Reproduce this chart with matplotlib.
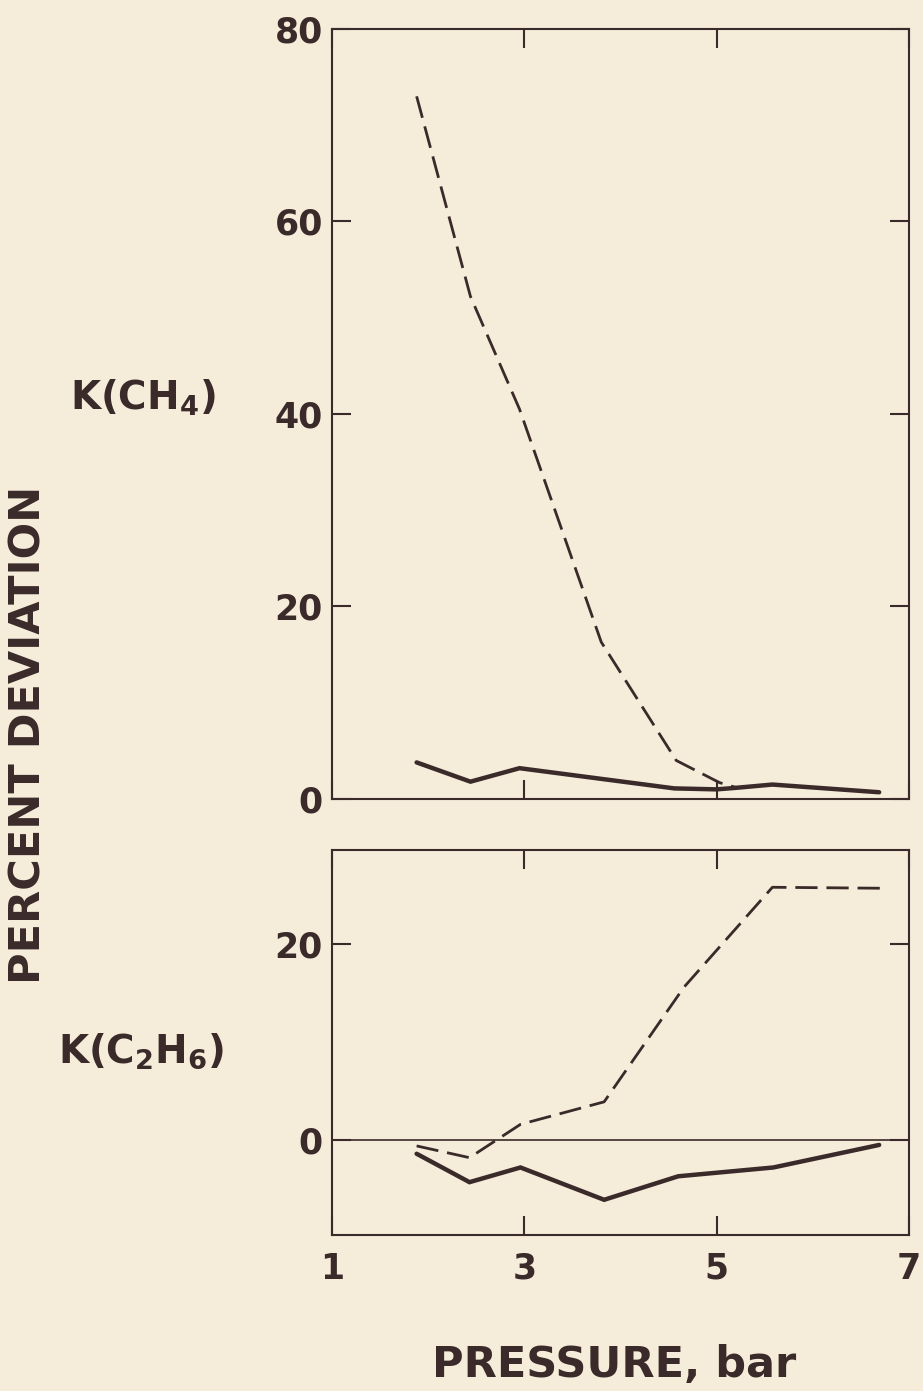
import matplotlib
matplotlib.use("Agg")
import matplotlib.pyplot as plt

plt.rcParams["font.family"] = ["DejaVu Sans"]
plt.rcParams["mathtext.fontset"] = "dejavusans"
plt.rcParams["mathtext.default"] = "bf"

# K(CH4) percent deviation vs pressure
ch4_solid_p = [1.88, 2.44, 2.95, 4.56, 5.00, 5.19, 5.58, 6.69]
ch4_solid_dev = [3.8, 1.8, 3.2, 1.1, 1.0, 1.15, 1.5, 0.7]
ch4_dash_p = [1.88, 2.44, 2.95, 3.80, 4.58, 5.03, 5.20]
ch4_dash_dev = [73.0, 52.2, 40.5, 16.3, 4.0, 1.7, 1.2]

# K(C2H6) percent deviation vs pressure
c2h6_solid_p = [1.88, 2.43, 2.96, 3.83, 4.60, 5.59, 6.69]
c2h6_solid_dev = [-1.4, -4.3, -2.8, -6.1, -3.7, -2.8, -0.5]
c2h6_dash_p = [1.88, 2.43, 2.96, 3.83, 4.66, 5.58, 6.71]
c2h6_dash_dev = [-0.6, -1.8, 1.6, 3.9, 15.6, 25.8, 25.7]

x_ticks = [1, 3, 5, 7]
top_yticks = [0, 20, 40, 60, 80]
bottom_yticks = [0, 20]

INK = "#3a2a29"
PAPER = "#f5ecda"

fig = plt.figure(figsize=(9.23, 13.91), dpi=100, facecolor=PAPER)
ax_top = fig.add_axes([0.3597, 0.4256, 0.6251, 0.5536])
ax_bot = fig.add_axes([0.3597, 0.1121, 0.6251, 0.2768])

dash = (8, 3.2)
for ax in (ax_top, ax_bot):
    ax.set_facecolor(PAPER)
    ax.set_xlim(1, 7)
    ax.set_xticks(x_ticks)
    for s in ax.spines.values():
        s.set_color(INK)
        s.set_linewidth(1.5)
    ax.tick_params(direction="in", length=14, width=1.5, color=INK,
                   top=True, right=True, labelcolor=INK)
    ax.tick_params(axis="y", pad=6.5, labelsize=25)
    ax.tick_params(axis="x", pad=12, labelsize=25)

ax_top.plot(ch4_solid_p, ch4_solid_dev, color=INK, lw=3.2,
            solid_joinstyle="miter", solid_capstyle="round")
ax_top.plot(ch4_dash_p, ch4_dash_dev, color=INK, lw=2.0, dashes=dash)
ax_top.set_ylim(0, 80)
ax_top.set_yticks(top_yticks)
ax_top.set_yticklabels([str(v) for v in top_yticks], fontweight="bold")
ax_top.tick_params(axis="x", labelbottom=False)

ax_bot.axhline(0, color=INK, lw=1.2)
ax_bot.plot(c2h6_solid_p, c2h6_solid_dev, color=INK, lw=3.2,
            solid_joinstyle="miter", solid_capstyle="round")
ax_bot.plot(c2h6_dash_p, c2h6_dash_dev, color=INK, lw=2.0, dashes=dash)
ax_bot.set_ylim(-9.7, 29.6)
ax_bot.set_yticks(bottom_yticks)
ax_bot.set_yticklabels([str(v) for v in bottom_yticks], fontweight="bold")
ax_bot.set_xticklabels([str(v) for v in x_ticks], fontweight="bold")

fig.text(0.076, 1 - 410 / 1391, "K(CH$_4$)", fontsize=28, fontweight="bold",
         color=INK, ha="left", va="baseline")
fig.text(0.063, 1 - 1063 / 1391, "K(C$_2$H$_6$)", fontsize=28, fontweight="bold",
         color=INK, ha="left", va="baseline")
fig.text(28.5 / 923, 1 - 735 / 1391, "PERCENT DEVIATION", fontsize=31,
         fontweight="bold", color=INK, rotation=90, ha="center", va="center")
fig.text(614.5 / 923, 1 - 1365 / 1391, "PRESSURE, bar", fontsize=31,
         fontweight="bold", color=INK, ha="center", va="center")

fig.savefig("out.png", dpi=100, facecolor=PAPER)
